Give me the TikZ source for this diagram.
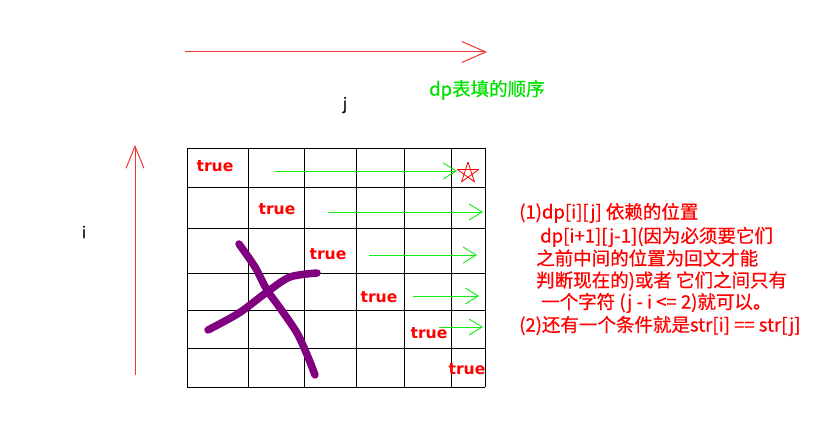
\documentclass[tikz,border=0pt]{standalone}
\usepackage{fontspec}
\setmainfont{Noto Sans CJK SC}
\newfontfamily\notefont[FakeBold=0.6]{Noto Sans CJK SC}
\newfontfamily\truefont{DejaVu Sans}
\usetikzlibrary{arrows.meta,calc}
\definecolor{myred}{RGB}{255,0,0}
\definecolor{arrred}{RGB}{240,50,50}
\definecolor{mygreen}{RGB}{0,225,0}
\definecolor{arrgreen}{RGB}{20,235,20}
\definecolor{mypurple}{RGB}{128,0,128}
\begin{document}
\begin{tikzpicture}[x=1pt,y=-1pt,
  truelabel/.style={text=myred,font=\truefont\bfseries\fontsize{15.6}{15.6}\selectfont,inner sep=0pt},
  note/.style={text=myred,font=\notefont\fontsize{18.5}{18.5}\selectfont,anchor=west,inner sep=0pt},
  fillarrow/.style={draw=arrgreen,line width=0.9pt,-{Straight Barb[length=13pt,width=16pt]}},
  gridline/.style={draw=black,line width=1pt},
  stroke/.style={draw=mypurple,line width=7.5pt,line cap=round,line join=round}]
\useasboundingbox (0,0) rectangle (826,430);
% grid
\foreach \x in {187,248,304,356,404,451,485} \draw[gridline] (\x,148) -- (\x,387);
\foreach \y in {149,188,228,273,310,348,387} \draw[gridline] (187,\y) -- (485,\y);
% true labels
\node[truelabel] (t1) at (215,166) {true};
\node[truelabel] (t2) at (277,209) {true};
\node[truelabel] (t3) at (328,254) {true};
\node[truelabel] (t4) at (379,297) {true};
\node[truelabel] (t5) at (429,333) {true};
\node[truelabel] (t6) at (467,369) {true};
% green arrows
\coordinate (g1s) at (275,171); \coordinate (g1e) at (457,171);
\coordinate (g2s) at (328,212); \coordinate (g2e) at (483,212);
\coordinate (g3s) at (369,255); \coordinate (g3e) at (477,255);
\coordinate (g4s) at (413,296); \coordinate (g4e) at (479,296);
\coordinate (g5s) at (439,327); \coordinate (g5e) at (483,327);
\draw[fillarrow] (g1s) -- (g1e);
\draw[fillarrow] (g2s) -- (g2e);
\draw[fillarrow] (g3s) -- (g3e);
\draw[fillarrow] (g4s) -- (g4e);
\draw[fillarrow] (g5s) -- (g5e);
% star
\coordinate (sc) at (468,173);
\draw[myred,line width=0.8pt,line join=round]
  ($(sc)+(-90:11)$) -- ($(sc)+(54:11)$) -- ($(sc)+(198:11)$) -- ($(sc)+(-18:11)$) -- ($(sc)+(126:11)$) -- cycle;
% purple strokes
\draw[stroke] plot[smooth] coordinates {(239,244) (255,267) (267,290) (280,308) (297,333) (308,357) (315,375)};
\draw[stroke] plot[smooth] coordinates {(208,330) (239,313) (267,292) (290,277) (317,273)};
% red arrows
\coordinate (ha) at (185,52); \coordinate (hb) at (487,52);
\draw[arrred,line width=1pt,-{Straight Barb[length=24pt,width=21pt]}] (ha) -- (hb);
\coordinate (va) at (135,375); \coordinate (vb) at (135,145);
\draw[arrred,line width=1pt,-{Straight Barb[length=22pt,width=18pt]}] (va) -- (vb);
% labels
\node[text=mygreen,font=\notefont\fontsize{18.5}{18.5}\selectfont,anchor=west,inner sep=0pt] (order) at (429,90) {dp表填的顺序};
\node[font=\notefont\fontsize{16}{16}\selectfont,inner sep=0pt] (jlabel) at (345,105) {j};
\node[font=\notefont\fontsize{16}{16}\selectfont,inner sep=0pt] (ilabel) at (84,232) {i};
% notes
\node[note] (n1) at (519,213) {(1)dp[i][j] 依赖的位置};
\node[note] (n2) at (540,237) {dp[i+1][j-1](因为必须要它们};
\node[note] (n3) at (536,258) {之前中间的位置为回文才能};
\node[note] (n4) at (536,281) {判断现在的)或者 它们之间只有};
\node[note] (n5) at (541,303) {一个字符 (j - i <= 2)就可以。};
\node[note] (n6) at (519,326) {(2)还有一个条件就是str[i] == str[j]};
\end{tikzpicture}
\end{document}
